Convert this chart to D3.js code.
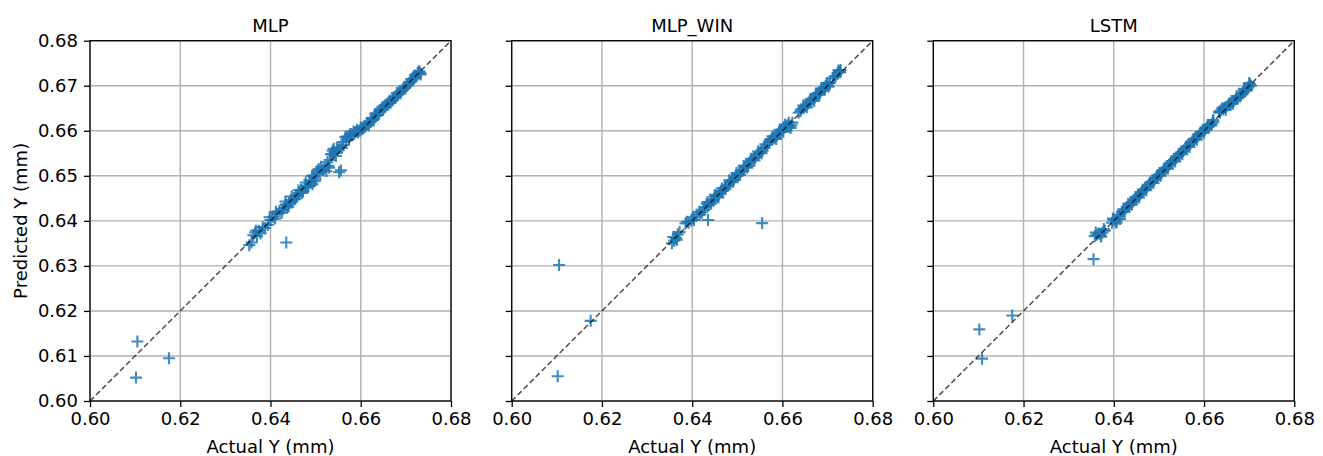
<!DOCTYPE html>
<html><head><meta charset="utf-8">
<script src="https://cdn.jsdelivr.net/npm/d3@7"></script>
<style>body{margin:0;background:#fff}svg{display:block}text{font-family:"DejaVu Sans",sans-serif}</style>
</head><body><svg id="c" width="1323" height="456"></svg>
<script>
const titles = ["MLP", "MLP_WIN", "LSTM"];
const xTicks = [0.60, 0.62, 0.64, 0.66, 0.68];
const yTicks = [0.60, 0.61, 0.62, 0.63, 0.64, 0.65, 0.66, 0.67, 0.68];
const xLabel = "Actual Y (mm)";
const yLabel = "Predicted Y (mm)";

const mlpActual = [0.6105,0.6102,0.6175,0.6435,0.6353,0.6358,0.6362,0.6366,0.6370,0.6374,0.6383,0.6388,0.6394,0.6400,0.6405,0.6410,0.6414,0.6420,0.6426,0.6430,0.6434,0.6437,0.6441,0.6445,0.6448,0.6452,0.6456,0.6460,0.6464,0.6468,0.6472,0.6476,0.6479,0.6483,0.6486,0.6490,0.6493,0.6496,0.6500,0.6503,0.6507,0.6510,0.6515,0.6520,0.6524,0.6528,0.6531,0.6534,0.6538,0.6542,0.6545,0.6549,0.6552,0.6556,0.6558,0.6562,0.6566,0.6570,0.6574,0.6578,0.6582,0.6586,0.6590,0.6594,0.6598,0.6602,0.6606,0.6610,0.6614,0.6618,0.6622,0.6626,0.6630,0.6634,0.6638,0.6642,0.6646,0.6650,0.6654,0.6658,0.6662,0.6666,0.6670,0.6674,0.6678,0.6682,0.6686,0.6690,0.6694,0.6698,0.6702,0.6706,0.6710,0.6714,0.6718,0.6722,0.6726,0.6730,0.6733,
  0.6368,0.6378,0.6398,0.6412,0.6425,0.6433,0.6440,0.6447,0.6455,0.6462,0.6470,0.6478,0.6484,0.6492,0.6498,0.6505,0.6512,0.6518,0.6526,0.6530,0.6536,0.6540,0.6547,0.6553,0.6560,0.6568,0.6576,0.6584,0.6592,0.6600,0.6608,0.6616,0.6624,0.6632,0.6640,0.6648,0.6656,0.6664,0.6672,0.6680,0.6688,0.6696,0.6704,0.6712,0.6720,0.6728,0.6732];
const mlpPred = [0.6132,0.6052,0.6095,0.6352,0.6346,0.6352,0.6368,0.6374,0.6366,0.6378,0.6386,0.6384,0.6391,0.6402,0.6409,0.6405,0.6416,0.6422,0.6425,0.6428,0.6436,0.6430,0.6438,0.6446,0.6442,0.6450,0.6455,0.6457,0.6462,0.6469,0.6466,0.6474,0.6478,0.6475,0.6490,0.6485,0.6481,0.6498,0.6492,0.6505,0.6515,0.6508,0.6513,0.6518,0.6510,0.6522,0.6535,0.6548,0.6556,0.6552,0.6544,0.6558,0.6508,0.6512,0.6562,0.6568,0.6586,0.6588,0.6582,0.6593,0.6590,0.6596,0.6598,0.6597,0.6600,0.6603,0.6605,0.6609,0.6615,0.6612,0.6620,0.6624,0.6627,0.6633,0.6635,0.6646,0.6648,0.6647,0.6652,0.6660,0.6663,0.6662,0.6667,0.6675,0.6676,0.6680,0.6685,0.6688,0.6692,0.6695,0.6700,0.6705,0.6708,0.6712,0.6716,0.6720,0.6728,0.6732,0.6725,
  0.6378,0.6372,0.6408,0.6420,0.6418,0.6443,0.6432,0.6454,0.6448,0.6468,0.6462,0.6485,0.6478,0.6500,0.6488,0.6512,0.6520,0.6512,0.6530,0.6518,0.6548,0.6560,0.6562,0.6562,0.6575,0.6580,0.6592,0.6598,0.6602,0.6607,0.6611,0.6618,0.6628,0.6638,0.6642,0.6653,0.6656,0.6667,0.6670,0.6684,0.6683,0.6698,0.6701,0.6715,0.6723,0.6731,0.6728];

const winActual = [0.6105,0.6102,0.6175,0.6435,0.6555,0.6355,0.6360,0.6364,0.6368,0.6372,0.6385,0.6392,0.6398,0.6404,0.6410,0.6416,0.6422,0.6428,0.6432,0.6436,0.6440,0.6444,0.6448,0.6452,0.6456,0.6460,0.6464,0.6468,0.6472,0.6476,0.6480,0.6484,0.6488,0.6492,0.6496,0.6500,0.6504,0.6508,0.6512,0.6516,0.6520,0.6524,0.6528,0.6532,0.6536,0.6540,0.6544,0.6548,0.6552,0.6556,0.6560,0.6566,0.6572,0.6576,0.6580,0.6584,0.6588,0.6592,0.6596,0.6600,0.6604,0.6608,0.6612,0.6616,0.6620,0.6636,0.6642,0.6648,0.6652,0.6656,0.6660,0.6664,0.6668,0.6672,0.6676,0.6680,0.6684,0.6688,0.6692,0.6696,0.6700,0.6705,0.6712,0.6718,0.6722,0.6726,0.6729,
  0.6358,0.6366,0.6388,0.6402,0.6418,0.6426,0.6434,0.6442,0.6450,0.6458,0.6466,0.6474,0.6482,0.6490,0.6498,0.6506,0.6514,0.6522,0.6530,0.6538,0.6546,0.6554,0.6562,0.6570,0.6578,0.6586,0.6594,0.6602,0.6606,0.6614,0.6618,0.6622,0.6640,0.6646,0.6654,0.6662,0.6670,0.6674,0.6682,0.6686,0.6694,0.6698,0.6702,0.6715,0.6724,0.6728];
const winPred = [0.6302,0.6055,0.6178,0.6402,0.6395,0.6350,0.6356,0.6362,0.6370,0.6375,0.6394,0.6396,0.6400,0.6402,0.6414,0.6420,0.6419,0.6430,0.6438,0.6434,0.6442,0.6445,0.6447,0.6455,0.6454,0.6461,0.6466,0.6467,0.6474,0.6478,0.6479,0.6486,0.6490,0.6491,0.6498,0.6502,0.6505,0.6510,0.6511,0.6519,0.6522,0.6522,0.6531,0.6536,0.6538,0.6541,0.6547,0.6550,0.6554,0.6556,0.6562,0.6569,0.6578,0.6582,0.6583,0.6585,0.6590,0.6596,0.6598,0.6603,0.6608,0.6610,0.6612,0.6610,0.6612,0.6640,0.6648,0.6652,0.6656,0.6660,0.6665,0.6668,0.6672,0.6674,0.6680,0.6684,0.6686,0.6690,0.6696,0.6700,0.6702,0.6706,0.6716,0.6722,0.6728,0.6732,0.6735,
  0.6364,0.6358,0.6398,0.6408,0.6414,0.6424,0.6442,0.6438,0.6458,0.6452,0.6472,0.6470,0.6490,0.6486,0.6506,0.6502,0.6522,0.6518,0.6538,0.6534,0.6554,0.6550,0.6570,0.6575,0.6588,0.6582,0.6602,0.6598,0.6614,0.6618,0.6606,0.6618,0.6644,0.6656,0.6652,0.6670,0.6666,0.6682,0.6680,0.6694,0.6692,0.6706,0.6698,0.6720,0.6734,0.6730];

const lstmActual = [0.6102,0.6108,0.6175,0.6355,0.6358,0.6362,0.6366,0.6370,0.6375,0.6380,0.6396,0.6400,0.6404,0.6408,0.6412,0.6418,0.6422,0.6426,0.6430,0.6434,0.6438,0.6442,0.6446,0.6450,0.6454,0.6458,0.6462,0.6466,0.6470,0.6474,0.6478,0.6482,0.6486,0.6490,0.6494,0.6498,0.6502,0.6506,0.6510,0.6514,0.6518,0.6522,0.6526,0.6530,0.6534,0.6538,0.6542,0.6546,0.6550,0.6554,0.6558,0.6562,0.6566,0.6570,0.6574,0.6578,0.6582,0.6586,0.6590,0.6594,0.6598,0.6602,0.6606,0.6610,0.6614,0.6618,0.6621,0.6633,0.6637,0.6642,0.6646,0.6650,0.6654,0.6658,0.6662,0.6666,0.6670,0.6674,0.6678,0.6682,0.6686,0.6690,0.6694,0.6698,0.6702,
  0.6360,0.6372,0.6378,0.6398,0.6406,0.6410,0.6414,0.6424,0.6432,0.6440,0.6448,0.6456,0.6464,0.6472,0.6480,0.6488,0.6496,0.6504,0.6512,0.6520,0.6528,0.6536,0.6544,0.6552,0.6560,0.6568,0.6576,0.6584,0.6592,0.6600,0.6608,0.6616,0.6620,0.6635,0.6640,0.6648,0.6656,0.6664,0.6672,0.6680,0.6688,0.6696,0.6700,0.6704];
const lstmPred = [0.6159,0.6094,0.6190,0.6315,0.6366,0.6369,0.6372,0.6370,0.6374,0.6378,0.6396,0.6402,0.6398,0.6403,0.6410,0.6420,0.6425,0.6427,0.6431,0.6435,0.6440,0.6443,0.6447,0.6451,0.6456,0.6459,0.6464,0.6468,0.6471,0.6476,0.6480,0.6484,0.6488,0.6492,0.6496,0.6500,0.6503,0.6507,0.6512,0.6516,0.6519,0.6524,0.6528,0.6532,0.6536,0.6540,0.6544,0.6548,0.6552,0.6555,0.6560,0.6564,0.6568,0.6572,0.6576,0.6580,0.6584,0.6588,0.6592,0.6596,0.6599,0.6603,0.6607,0.6610,0.6613,0.6616,0.6620,0.6642,0.6645,0.6648,0.6651,0.6654,0.6657,0.6660,0.6663,0.6666,0.6670,0.6673,0.6677,0.6680,0.6684,0.6688,0.6692,0.6697,0.6703,
  0.6374,0.6365,0.6382,0.6405,0.6396,0.6414,0.6404,0.6420,0.6438,0.6436,0.6453,0.6452,0.6469,0.6468,0.6485,0.6484,0.6501,0.6500,0.6517,0.6516,0.6533,0.6532,0.6549,0.6548,0.6565,0.6564,0.6581,0.6580,0.6597,0.6596,0.6613,0.6612,0.6624,0.6640,0.6650,0.6646,0.6661,0.6660,0.6677,0.6676,0.6693,0.6692,0.6706,0.6700];

const series = [[mlpActual, mlpPred], [winActual, winPred], [lstmActual, lstmPred]];

const svg = d3.select("#c");
svg.append("rect").attr("width", 1323).attr("height", 456).attr("fill", "#fff");

const lefts = [90, 511.7, 933.3];
const plotTop = 40.7, W = 361, H = 360.3;
const FS = 18;

series.forEach((s, i) => {
  const g = svg.append("g").attr("transform", `translate(${lefts[i]},${plotTop})`);
  const x = d3.scaleLinear().domain([0.60, 0.68]).range([0, W]);
  const y = d3.scaleLinear().domain([0.60, 0.68]).range([H, 0]);

  g.append("g").selectAll("line").data(xTicks).join("line")
    .attr("x1", d => x(d)).attr("x2", d => x(d)).attr("y1", 0).attr("y2", H)
    .attr("stroke", "#b0b0b0").attr("stroke-width", 1.4);
  g.append("g").selectAll("line").data(yTicks).join("line")
    .attr("y1", d => y(d)).attr("y2", d => y(d)).attr("x1", 0).attr("x2", W)
    .attr("stroke", "#b0b0b0").attr("stroke-width", 1.4);

  const pts = s[0].map((a, k) => ({a, p: s[1][k]}));
  g.append("g").selectAll("path").data(pts).join("path")
    .attr("transform", d => `translate(${x(d.a)},${y(d.p)})`)
    .attr("d", "M-6,0H6M0,-6V6")
    .attr("stroke", "#1f77b4").attr("stroke-width", 2.1).attr("fill", "none")
    .attr("opacity", 0.85);

  g.append("line")
    .attr("x1", x(0.60)).attr("y1", y(0.60)).attr("x2", x(0.68)).attr("y2", y(0.68))
    .attr("stroke", "#000").attr("stroke-opacity", 0.7).attr("stroke-width", 1.5)
    .attr("stroke-dasharray", "5.5,3");

  const xa = g.append("g").attr("transform", `translate(0,${H})`)
    .call(d3.axisBottom(x).tickValues(xTicks).tickFormat(d3.format(".2f")).tickSize(6).tickPadding(5));
  const ya = g.append("g")
    .call(d3.axisLeft(y).tickValues(yTicks).tickFormat(i === 0 ? d3.format(".2f") : () => "").tickSize(6).tickPadding(6));
  [xa, ya].forEach(a => {
    a.select(".domain").remove();
    a.selectAll("line").attr("stroke", "#000").attr("stroke-width", 1.3);
    a.selectAll("text").attr("font-size", FS).attr("fill", "#000").attr("font-family", "DejaVu Sans");
  });

  g.append("rect").attr("width", W).attr("height", H).attr("fill", "none")
    .attr("stroke", "#000").attr("stroke-width", 1.3);

  g.append("text").attr("x", W / 2).attr("y", -9).attr("text-anchor", "middle")
    .attr("font-size", FS).text(titles[i]);
  g.append("text").attr("x", W / 2).attr("y", H + 52).attr("text-anchor", "middle")
    .attr("font-size", FS).text(xLabel);
  if (i === 0) {
    g.append("text").attr("transform", `translate(${-63.5},${H / 2}) rotate(-90)`)
      .attr("text-anchor", "middle").attr("font-size", FS).text(yLabel);
  }
});
</script></body></html>
